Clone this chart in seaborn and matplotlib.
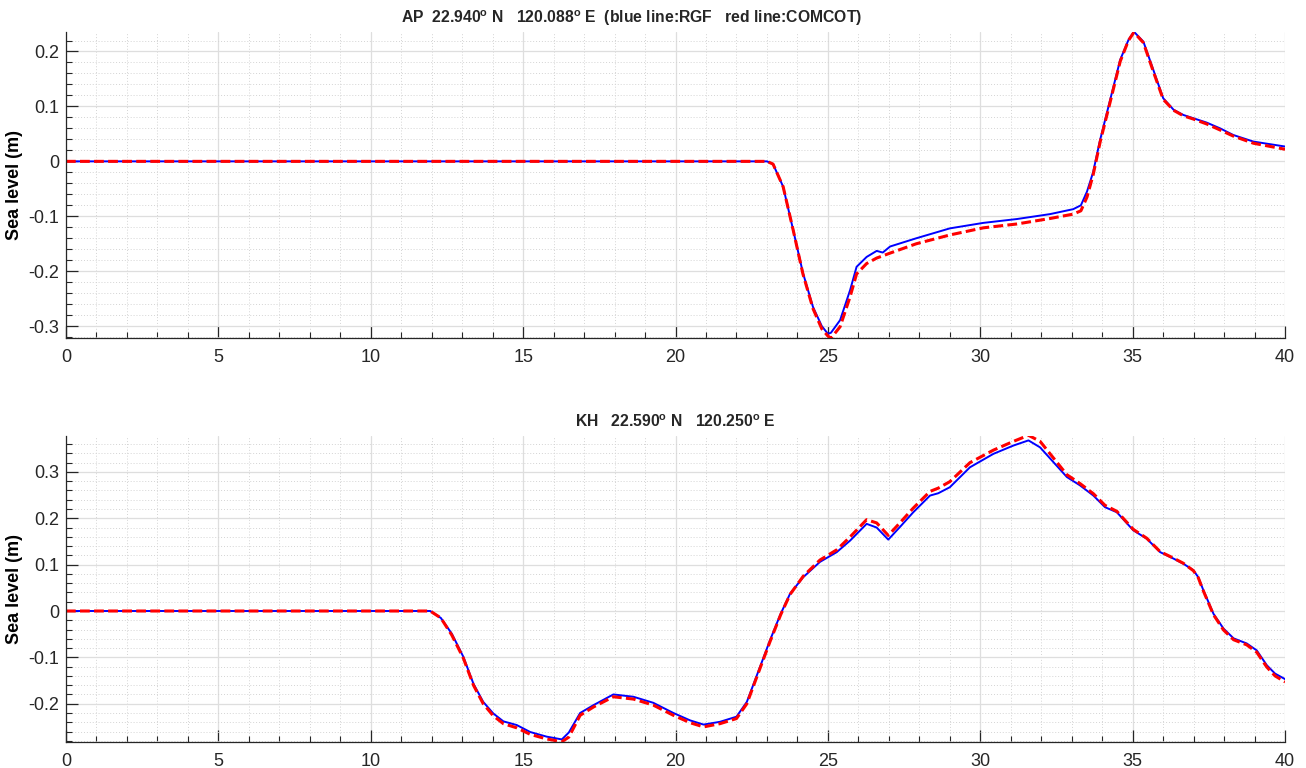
import matplotlib
matplotlib.use("Agg")
import matplotlib.pyplot as plt
import seaborn as sns
from matplotlib.ticker import MultipleLocator, FormatStrFormatter

# AP station, time (h) and sea level (m)
t_ap = [0, 23.0, 23.2, 23.53, 23.86, 24.18, 24.51, 24.8, 25.0, 25.1, 25.4, 25.73, 25.94,
        26.27, 26.6, 26.8, 27.04, 27.9, 29.0, 30.1, 31.2, 32.29, 33.05, 33.3, 33.5, 33.7,
        33.93, 34.26, 34.59, 34.86, 35.04, 35.35, 35.68, 36.0, 36.34, 36.66, 36.99, 37.43,
        37.87, 38.3, 38.96, 40.0]
ap_rgf = [0, 0, -0.005, -0.046, -0.125, -0.203, -0.265, -0.300, -0.314, -0.312, -0.289,
          -0.234, -0.192, -0.174, -0.163, -0.166, -0.155, -0.140, -0.122, -0.112, -0.105,
          -0.096, -0.087, -0.080, -0.055, -0.020, 0.039, 0.112, 0.185, 0.221, 0.236, 0.218,
          0.166, 0.115, 0.094, 0.0845, 0.0785, 0.0705, 0.060, 0.048, 0.036, 0.027]
ap_comcot = [0, 0, -0.005, -0.046, -0.125, -0.205, -0.268, -0.305, -0.318, -0.322, -0.301,
             -0.246, -0.205, -0.186, -0.176, -0.172, -0.167, -0.150, -0.134, -0.121, -0.114,
             -0.104, -0.096, -0.090, -0.065, -0.025, 0.035, 0.108, 0.182, 0.220, 0.235, 0.216,
             0.163, 0.113, 0.093, 0.083, 0.077, 0.068, 0.057, 0.046, 0.033, 0.022]

# KH station
t_kh = [0, 11.95, 12.3, 12.66, 13.04, 13.37, 13.69, 14.02, 14.35, 14.79, 15.23, 15.77, 16.27,
        16.5, 16.87, 17.31, 17.96, 18.62, 19.27, 19.93, 20.48, 20.92, 21.46, 22.0, 22.34,
        22.77, 23.1, 23.45, 23.76, 24.19, 24.74, 25.29, 25.73, 26.27, 26.6, 26.98, 27.36,
        27.8, 28.35, 28.62, 29.0, 29.66, 30.43, 31.09, 31.58, 31.96, 32.4, 32.84, 33.27,
        33.71, 34.09, 34.48, 35.02, 35.46, 35.9, 36.34, 36.66, 36.99, 37.15, 37.32, 37.65,
        37.98, 38.31, 38.74, 39.07, 39.4, 39.67, 40.0]
kh_rgf = [0, 0, -0.015, -0.049, -0.099, -0.157, -0.196, -0.221, -0.238, -0.246, -0.261,
          -0.271, -0.277, -0.262, -0.220, -0.203, -0.180, -0.185, -0.198, -0.220, -0.236,
          -0.245, -0.239, -0.228, -0.196, -0.121, -0.063, -0.006, 0.0375, 0.073, 0.106,
          0.127, 0.152, 0.188, 0.180, 0.154, 0.181, 0.213, 0.249, 0.254, 0.267, 0.310,
          0.339, 0.357, 0.368, 0.353, 0.321, 0.289, 0.271, 0.249, 0.224, 0.213, 0.174,
          0.156, 0.127, 0.113, 0.102, 0.088, 0.073, 0.0446, -0.006, -0.038, -0.059, -0.070,
          -0.085, -0.117, -0.135, -0.147]
kh_comcot = [0, 0, -0.015, -0.052, -0.102, -0.160, -0.200, -0.226, -0.243, -0.252, -0.266,
             -0.276, -0.282, -0.272, -0.225, -0.207, -0.185, -0.190, -0.203, -0.225, -0.241,
             -0.250, -0.243, -0.232, -0.200, -0.124, -0.066, -0.008, 0.036, 0.075, 0.110,
             0.132, 0.160, 0.197, 0.190, 0.163, 0.190, 0.222, 0.258, 0.265, 0.279, 0.320,
             0.347, 0.366, 0.379, 0.366, 0.330, 0.294, 0.275, 0.253, 0.228, 0.215, 0.176,
             0.157, 0.128, 0.114, 0.103, 0.087, 0.072, 0.043, -0.008, -0.041, -0.062, -0.073,
             -0.089, -0.121, -0.140, -0.153]

titles = [r"AP  22.940$^{\mathbf{o}}$ N   120.088$^{\mathbf{o}}$ E  (blue line:RGF   red line:COMCOT)",
          r"KH   22.590$^{\mathbf{o}}$ N   120.250$^{\mathbf{o}}$ E"]
ylims = [(-0.321, 0.236), (-0.282, 0.378)]

sns.set_theme(style="ticks")
plt.rcParams['font.family'] = ['Liberation Sans', 'DejaVu Sans']
plt.rcParams['mathtext.fontset'] = 'custom'
plt.rcParams['mathtext.rm'] = 'Liberation Sans'
plt.rcParams['mathtext.bf'] = 'Liberation Sans:bold'
plt.rcParams['axes.unicode_minus'] = False

fig = plt.figure(figsize=(13.06, 7.68), dpi=100)
ax1 = fig.add_axes([0.0505, 0.5603, 0.9335, 0.3984])
ax2 = fig.add_axes([0.0505, 0.0342, 0.9335, 0.3984])

series = [(t_ap, ap_rgf, ap_comcot), (t_kh, kh_rgf, kh_comcot)]
dark = '#262626'

for i, ax in enumerate([ax1, ax2]):
    t, blue, red = series[i]
    sns.lineplot(x=t, y=blue, ax=ax, color='#0000ff', linewidth=1.4,
                 estimator=None, sort=False)
    sns.lineplot(x=t, y=red, ax=ax, color='#ff0000', linewidth=2.2,
                 estimator=None, sort=False)
    ax.lines[-1].set_dashes((3.2, 1.4))
    ax.set_xlim(0, 40)
    ax.set_ylim(*ylims[i])
    ax.xaxis.set_major_locator(MultipleLocator(5))
    ax.xaxis.set_minor_locator(MultipleLocator(1))
    ax.yaxis.set_major_locator(MultipleLocator(0.1))
    ax.yaxis.set_minor_locator(MultipleLocator(0.02))
    ax.yaxis.set_major_formatter(FormatStrFormatter('%g'))
    ax.grid(which='major', color='#dedede', linewidth=0.9, linestyle='-')
    ax.grid(which='minor', color='#d4d4d4', linewidth=0.7, linestyle=(0, (1, 2)))
    ax.set_axisbelow(True)
    for side in ['top', 'right']:
        ax.spines[side].set_visible(False)
    for side in ['left', 'bottom']:
        ax.spines[side].set_color(dark)
        ax.spines[side].set_linewidth(0.9)
    ax.tick_params(which='major', direction='in', length=8.5, width=0.9, color=dark,
                   labelsize=13, labelcolor=dark)
    ax.tick_params(axis='x', which='major', pad=8)
    ax.tick_params(axis='y', which='major', pad=5)
    ax.tick_params(which='minor', direction='in', length=4.3, width=0.8, color=dark)
    ax.set_ylabel("Sea level (m)", fontsize=13, fontweight='bold', color='black')
    ax.yaxis.set_label_coords(-0.035, 0.5)
    ax.set_xlabel("")

ax1.set_title(titles[0], fontsize=11.3, fontweight='bold', x=0.464, pad=6)
ax2.set_title(titles[1], fontsize=11.3, fontweight='bold', pad=6)

fig.savefig("out.png", dpi=100)
